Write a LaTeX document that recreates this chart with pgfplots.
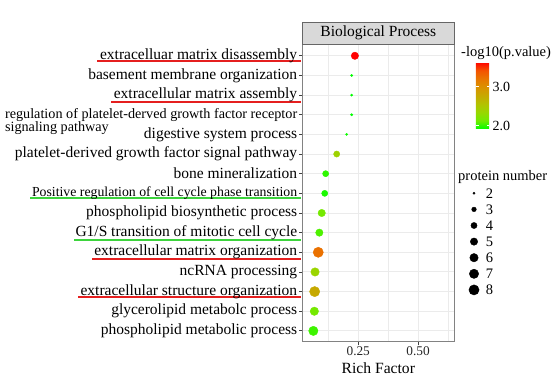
\documentclass[border=0pt]{standalone}
\usepackage{fontspec}
\setmainfont{Liberation Serif}
\usepackage{pgfplots}
\pgfplotsset{compat=1.18}
\usepackage{pgfplotstable}

\definecolor{ulred}{rgb}{0.9,0.12,0.12}
\definecolor{ulgreen}{rgb}{0.24,0.83,0.24}
\definecolor{gridc}{RGB}{235,235,235}
\definecolor{stripfill}{RGB}{217,217,217}
\definecolor{bordc}{RGB}{130,130,130}

\newcommand{\fnt}[1]{\fontsize{#1}{#1}\selectfont}
\newlength{\wA}\newlength{\wC}\newlength{\wH}\newlength{\wJ}\newlength{\wK}\newlength{\wM}

\pgfplotstableread{
row rf lp n
1 0.236 3.63 5
2 0.2225 1.91 2
3 0.2225 1.91 2
4 0.2225 1.91 2
5 0.2017 1.93 2
6 0.160 2.39 4
7 0.114 2.00 4
8 0.110 1.96 4
9 0.0975 2.15 5
10 0.0875 2.06 5
11 0.083 3.23 8
12 0.0696 2.36 6
13 0.068 2.77 8
14 0.0667 2.15 6
15 0.0625 2.03 7
}\bpdata

\pgfplotstableread{
x n
0 2
0 3
0 4
0 5
0 6
0 7
0 8
}\sizelegend

\begin{document}%
\settowidth{\wA}{\fnt{15.5bp}extracelluar matrix disassembly}%
\settowidth{\wC}{\fnt{15.5bp}extracellular matrix assembly}%
\settowidth{\wH}{\fnt{13.8bp}Positive regulation of cell cycle phase transition}%
\settowidth{\wJ}{\fnt{15.5bp}G1/S transition of mitotic cell cycle}%
\settowidth{\wK}{\fnt{15.5bp}extracellular matrix organization}%
\settowidth{\wM}{\fnt{15.5bp}extracellular structure organization}%
\begin{tikzpicture}
\path[use as bounding box] (0,0) rectangle (553bp,380bp);
% underlines (annotations of the tick labels)
\path[fill=ulred] (297.4bp-\wA-3bp,317.9bp) rectangle (300.5bp,319.5bp);
\path[fill=ulgreen] (297.4bp-\wH-2bp,180.9bp) rectangle (300.5bp,182.5bp);
\path[fill=ulred] (297.4bp-\wC-3bp,277.2bp) rectangle (300.5bp,278.8bp);
\path[fill=ulgreen] (297.4bp-\wJ-2bp,139.2bp) rectangle (300.5bp,140.8bp);
\path[fill=ulred] (297.4bp-\wK-3bp,120.2bp) rectangle (300.5bp,121.8bp);
\path[fill=ulgreen] (0bp,0bp) rectangle (0bp,0bp);
\path[fill=ulred] (297.4bp-\wM-3bp,81.9bp) rectangle (300.5bp,83.5bp);
\begin{axis}[
  at={(302.7bp,38.3bp)}, anchor=south west, scale only axis,
  width=151.3bp, height=297.7bp,
  xmin=0.018, xmax=0.65, ymin=0.4, ymax=15.55, y dir=reverse,
  xtick={0.25,0.5}, xticklabels={0.25,0.50},
  minor xtick={0.125,0.375,0.625},
  ytick={1,...,15},
  yticklabels={
    extracelluar matrix disassembly,
    basement membrane organization,
    extracellular matrix assembly,
    {\fnt{14.2bp}\smash{\rlap{\raisebox{-13.5bp}{signaling pathway}}}regulation of platelet-derved growth factor receptor},
    digestive system process,
    platelet-derived growth factor signal pathway,
    bone mineralization,
    {\fnt{13.8bp}Positive regulation of cell cycle phase transition},
    phospholipid biosynthetic process,
    G1/S transition of mitotic cell cycle,
    extracellular matrix organization,
    ncRNA processing,
    extracellular structure organization,
    glycerolipid metabolc process,
    phospholipid metabolic process},
  xmajorgrids, xminorgrids, ymajorgrids,
  major grid style={gridc, line width=0.9bp},
  minor grid style={gridc, line width=0.45bp},
  axis line style={bordc, line width=0.8bp},
  tick align=outside, major tick length=3.6bp, minor tick length=0pt,
  tick style={black!75, line width=0.8bp},
  xtick pos=bottom, ytick pos=left,
  xticklabel style={font=\fnt{13.3bp}, inner sep=1bp, text=black!85},
  yticklabel style={font=\fnt{15.5bp}, inner sep=1.7bp, text=black},
  colormap={gr}{rgb255=(0,255,0) rgb255=(112,235,0) rgb255=(152,215,0) rgb255=(179,194,0) rgb255=(198,169,0) rgb255=(218,146,0) rgb255=(232,118,0) rgb255=(244,83,0) rgb255=(255,0,0)},
  point meta min=1.91, point meta max=3.63,
  colorbar,
  colorbar style={
    at={(parent axis.north east)}, anchor=north west, xshift=13.3bp, yshift=-18bp,
    scale only axis, width=13.4bp, height=67bp,
    y dir=normal, xtick=\empty, minor xtick={}, minor ytick={},
    xmajorgrids=false, xminorgrids=false, ymajorgrids=false,
    ytick={2,3}, yticklabels={2.0,3.0},
    yticklabel style={font=\fnt{14bp}, inner sep=3.3bp, text=black},
    tick align=inside, major tick length=2.7bp, tick style={white, line width=0.6bp},
    ytick pos=both, yticklabel pos=right,
    axis line style={draw=none},
  },
]
\addplot[scatter, only marks, mark=*,
  scatter src=explicit,
  scatter/use mapped color={draw=mapped color, fill=mapped color},
  visualization depends on={0.85*sqrt(1.8+34.2*(\thisrow{n}-2)/6) \as \msz},
  scatter/@pre marker code/.append style={/tikz/mark size=\msz bp}]
  table[x=rf, y=row, meta=lp]{\bpdata};
\end{axis}

\begin{axis}[
  at={(469bp,82.05bp)}, anchor=south west, scale only axis,
  width=10bp, height=112.7bp,
  xmin=-1, xmax=1, ymin=1.5, ymax=8.5, y dir=reverse,
  axis line style={draw=none}, xtick=\empty,
  ytick={2,3,4,5,6,7,8}, yticklabels={2,3,4,5,6,7,8},
  yticklabel pos=right, ytick pos=right, major tick length=0pt,
  yticklabel style={font=\fnt{14.5bp}, anchor=west, inner sep=0pt, xshift=6.7bp, text=black},
  clip=false,
]
\addplot[scatter, only marks, mark=*,
  scatter/use mapped color={draw=black, fill=black},
  visualization depends on={0.85*sqrt(1.8+34.2*(\thisrow{n}-2)/6) \as \msz},
  scatter/@pre marker code/.append style={/tikz/mark size=\msz bp}]
  table[x=x, y=n]{\sizelegend};
\end{axis}

\draw[fill=stripfill, draw=black!60, line width=0.8bp] (302.7bp,336bp) rectangle (454bp,358bp);
\node[font=\fnt{15.5bp}] at (378.35bp,347bp) {Biological Process};
\node[anchor=base, font=\fnt{15.6bp}] at (378.35bp,6.7bp) {Rich Factor};
\node[anchor=west, font=\fnt{14.5bp}, inner sep=0pt] at (461bp,327bp) {-log10(p.value)};
\node[anchor=west, font=\fnt{14.5bp}, inner sep=0pt] at (458bp,203.3bp) {protein number};
\end{tikzpicture}%
\end{document}
